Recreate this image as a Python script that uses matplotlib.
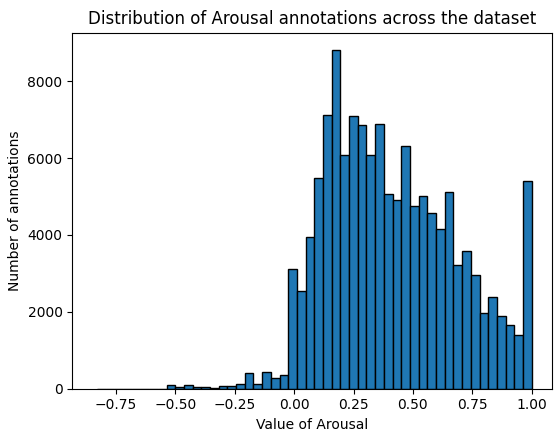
import numpy as np
import matplotlib
matplotlib.use('Agg')
import matplotlib.pyplot as plt

# histogram of arousal values, 50 bins, counts
bin_lo, bin_hi, n_bins = -0.83, 1.0, 50

counts_neg = [0, 0, 0, 0, 0, 0, 0, 0,
              87, 35, 87, 30, 50, 20, 70, 70, 105, 415, 105, 433, 270, 346]
counts_pos = [3100, 2545, 3948, 5472, 7117, 8823, 6078, 7091, 6849, 6078,
              6892, 5073, 4901, 6320, 4745, 5021, 4571, 4147, 5117, 3221,
              3584, 2944, 1966, 2381, 1896, 1654, 1403, 5395]
counts = np.array(counts_neg + counts_pos)

edges = np.linspace(bin_lo, bin_hi, n_bins + 1)
centres = 0.5 * (edges[:-1] + edges[1:])

fig = plt.figure(figsize=(5.54, 4.30), dpi=100)
ax = fig.add_axes([0.1305, 0.0965, 0.8665, 0.8275])

ax.hist(centres, bins=edges, weights=counts, edgecolor='black', color='#1f77b4')

ax.set_xlim(-0.934, 1.087)
ax.set_title('Distribution of Arousal annotations across the dataset')
ax.set_xlabel('Value of Arousal')
ax.set_ylabel('Number of annotations')

fig.savefig('out.png', dpi=100)
